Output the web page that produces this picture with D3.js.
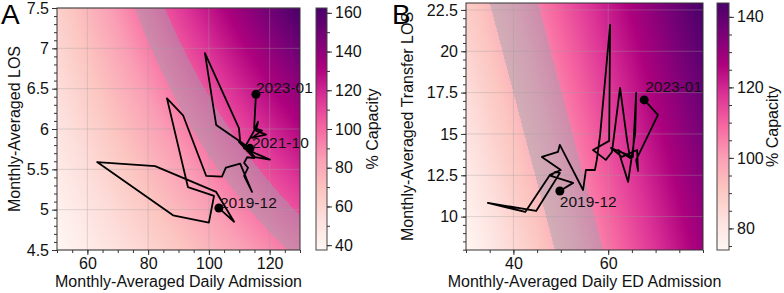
<!DOCTYPE html>
<html><head><meta charset="utf-8">
<script src="https://cdn.jsdelivr.net/npm/d3@7"></script>
<style>html,body{margin:0;padding:0;background:#fff;} svg{display:block;font-family:"Liberation Sans",Arial,sans-serif;}</style>
</head><body><svg id="chart" width="784" height="293"></svg>
<script>
// ---------------- DATA ----------------
// Panel A: monthly-averaged daily admission vs monthly-averaged LOS (2019-12 .. 2023-01)
const aAdmission = [103.3,108.3,102.4,82.3,63.2,88.2,100.0,101.7,93.1,86.2,91.5,99.1,104.3,105.6,110.3,114.2,111.6,112.9,111.6,112.6,114.9,109.9,113.5,102.4,98.7,109.9,110.3,115.2,120.1,111.6,114.5,116.2,115.5,118.8,114.2,117.5,114.9,115.5];
const aLOS       = [5.02,4.85,5.22,5.54,5.59,4.93,4.84,5.17,5.28,6.38,6.17,5.42,5.41,5.52,5.57,5.22,5.42,5.52,5.58,5.65,5.64,5.84,5.76,6.05,6.94,6.01,5.85,5.65,5.62,5.76,5.95,6.09,5.98,5.93,5.89,5.98,6.01,6.43];
// Panel B: monthly-averaged daily ED admission vs monthly-averaged transfer LOS
const bAdmission   = [49.8,52.6,47.9,48.8,49.8,44.8,34.6,42.5,47.7,50.0,46.0,49.4,49.8,54.7,55.3,57.2,57.6,58.3,60.4,60.2,56.8,59.5,60.8,62.5,64.0,64.6,62.1,64.2,65.7,65.9,65.2,60.6,62.9,66.1,66.3,65.9,70.5,67.6];
const bTransferLOS = [11.55,12.04,12.46,12.70,12.64,10.34,10.83,10.28,12.52,12.82,13.61,13.91,14.34,11.61,12.82,12.82,13.43,14.94,21.59,14.58,14.03,13.43,13.91,17.78,14.58,13.55,14.03,12.10,15.06,17.48,13.61,14.15,13.61,14.03,12.76,13.43,16.15,17.06];

const aLabelIdx = [0, 22, 37];
const aLabels   = ["2019-12", "2021-10", "2023-01"];
const bLabelIdx = [0, 37];
const bLabels   = ["2019-12", "2023-01"];

const aXDomain = [50, 130], aYDomain = [4.5, 7.5];
const bXDomain = [30, 80],  bYDomain = [7.98, 22.92];
const aXTicks = [60, 80, 100, 120];
const aYTicks = [4.5, 5, 5.5, 6, 6.5, 7, 7.5];
const aCbTicks = [40, 60, 80, 100, 120, 140, 160];
const bXTicks = [40, 60];
const bYTicks = [10, 12.5, 15, 17.5, 20, 22.5];
const bCbTicks = [80, 100, 120, 140];

// capacity models (% capacity surfaces)
const aBeds = 600;                          // capacity = admission * LOS / beds * 100
const bCoef = [32.84, 1.099, 1.011];        // capacity = c0 + a*admission + b*transferLOS
const aBand = [94.5, 106.8];
const bBand = [94.5, 105.7];

const rdpu = ["#fff7f3","#fde0dd","#fcc5c0","#fa9fb5","#f768a1","#dd3497","#ae017e","#7a0177","#49006a"];

// ---------------- DRAW ----------------
const svg = d3.select("#chart");
const cmap = d3.scaleLinear().domain(d3.range(9).map(i => i / 8)).range(rdpu).interpolate(d3.interpolateRgb).clamp(true);
const fmt = d => String(d);

function rasterURL(w, h, fn) {
  const c = document.createElement("canvas"); c.width = w; c.height = h;
  const ctx = c.getContext("2d"); const img = ctx.createImageData(w, h);
  for (let j = 0; j < h; j++) for (let i = 0; i < w; i++) {
    const col = fn(i + 0.5, j + 0.5); const k = (j * w + i) * 4;
    img.data[k] = col[0]; img.data[k+1] = col[1]; img.data[k+2] = col[2]; img.data[k+3] = 255;
  }
  ctx.putImageData(img, 0, 0); return c.toDataURL();
}

function panel(cfg) {
  const x = d3.scaleLinear().domain(cfg.xDomain).range([cfg.left, cfg.right]);
  const y = d3.scaleLinear().domain(cfg.yDomain).range([cfg.bottom, cfg.top]);
  const corners = [];
  for (const xv of cfg.xDomain) for (const yv of cfg.yDomain) corners.push(cfg.cap(xv, yv));
  const cext = d3.extent(corners);
  const cnorm = d3.scaleLinear().domain(cext).range([0, 1]);
  const w = Math.round(cfg.right - cfg.left), h = Math.round(cfg.bottom - cfg.top);
  const bandCol = [150, 160, 175], ga = cfg.bandAlpha;
  const url = rasterURL(w, h, (px, py) => {
    const xv = x.invert(cfg.left + px), yv = y.invert(cfg.top + py);
    const c = cfg.cap(xv, yv);
    const rgb = d3.rgb(cmap(cnorm(c)));
    let col = [rgb.r, rgb.g, rgb.b];
    if (c >= cfg.band[0] && c <= cfg.band[1]) col = col.map((v, i) => v * (1 - ga) + bandCol[i] * ga);
    return col;
  });
  const g = svg.append("g");
  g.append("image").attr("href", url).attr("x", cfg.left).attr("y", cfg.top)
    .attr("width", w).attr("height", h).attr("preserveAspectRatio", "none");

  // grid
  g.append("g").selectAll("line").data(cfg.xTicks).join("line")
    .attr("x1", d => x(d)).attr("x2", d => x(d)).attr("y1", cfg.top).attr("y2", cfg.bottom)
    .attr("stroke", "#a0a0a0").attr("stroke-opacity", 0.45).attr("stroke-width", 0.8);
  g.append("g").selectAll("line").data(cfg.yTicks).join("line")
    .attr("y1", d => y(d)).attr("y2", d => y(d)).attr("x1", cfg.left).attr("x2", cfg.right)
    .attr("stroke", "#a0a0a0").attr("stroke-opacity", 0.45).attr("stroke-width", 0.8);

  // trajectory
  const pts = cfg.xs.map((v, i) => [v, cfg.ys[i]]);
  g.append("path").datum(pts)
    .attr("d", d3.line().x(d => x(d[0])).y(d => y(d[1])))
    .attr("fill", "none").attr("stroke", "#000").attr("stroke-width", 1.8).attr("stroke-linejoin", "round");
  g.selectAll("circle.m").data(cfg.labelIdx).join("circle")
    .attr("cx", i => x(cfg.xs[i])).attr("cy", i => y(cfg.ys[i])).attr("r", 4.5).attr("fill", "#000");
  g.selectAll("text.lab").data(cfg.labelIdx).join("text")
    .attr("x", (i, k) => x(cfg.xs[i]) + cfg.labOff[k][0]).attr("y", (i, k) => y(cfg.ys[i]) + cfg.labOff[k][1])
    .attr("font-size", 15.5).attr("fill", "#111").text((i, k) => cfg.labels[k]);

  // frame
  g.append("rect").attr("x", cfg.left).attr("y", cfg.top).attr("width", cfg.right - cfg.left).attr("height", cfg.bottom - cfg.top)
    .attr("fill", "none").attr("stroke", "#333").attr("stroke-width", 1);

  // axes
  const styleAxis = sel => { sel.select(".domain").remove(); sel.selectAll("line").attr("stroke", "#333");
    sel.selectAll("text").attr("font-size", 16).attr("fill", "#111").attr("font-family", "Liberation Sans, Arial, sans-serif"); };
  const xMinor = d3.range(Math.ceil(cfg.xDomain[0] / cfg.xMinor) * cfg.xMinor, cfg.xDomain[1] + 1e-9, cfg.xMinor);
  const yMinor = d3.range(Math.ceil(cfg.yDomain[0] / cfg.yMinor - 1e-9) * cfg.yMinor, cfg.yDomain[1] + 1e-9, cfg.yMinor);
  g.append("g").attr("transform", `translate(0,${cfg.bottom})`)
    .call(d3.axisBottom(x).tickValues(xMinor).tickSize(3).tickFormat("")).call(styleAxis);
  g.append("g").attr("transform", `translate(0,${cfg.bottom})`)
    .call(d3.axisBottom(x).tickValues(cfg.xTicks).tickSize(5).tickPadding(3).tickFormat(fmt)).call(styleAxis);
  g.append("g").attr("transform", `translate(${cfg.left},0)`)
    .call(d3.axisLeft(y).tickValues(yMinor).tickSize(3).tickFormat("")).call(styleAxis);
  g.append("g").attr("transform", `translate(${cfg.left},0)`)
    .call(d3.axisLeft(y).tickValues(cfg.yTicks).tickSize(5).tickPadding(3).tickFormat(fmt)).call(styleAxis);

  // labels
  g.append("text").attr("x", (cfg.left + cfg.right) / 2).attr("y", 287).attr("text-anchor", "middle")
    .attr("font-size", 16).attr("fill", "#111").text(cfg.xLabel);
  g.append("text").attr("transform", `translate(${cfg.yLabelX},${(cfg.top + cfg.bottom) / 2}) rotate(-90)`)
    .attr("text-anchor", "middle").attr("font-size", 16).attr("fill", "#111").text(cfg.yLabel);
  g.append("text").attr("x", cfg.letterX).attr("y", 24).attr("font-size", 28).attr("fill", "#000").text(cfg.letter);

  // colorbar
  const cb = d3.scaleLinear().domain(cext).range([cfg.bottom, cfg.top]);
  const cbw = cfg.cbRight - cfg.cbLeft;
  const cbUrl = rasterURL(Math.round(cbw), h, (px, py) => {
    const rgb = d3.rgb(cmap(cnorm(cb.invert(cfg.top + py)))); return [rgb.r, rgb.g, rgb.b]; });
  g.append("image").attr("href", cbUrl).attr("x", cfg.cbLeft).attr("y", cfg.top)
    .attr("width", cbw).attr("height", h).attr("preserveAspectRatio", "none");
  g.append("rect").attr("x", cfg.cbLeft).attr("y", cfg.top).attr("width", cbw).attr("height", h)
    .attr("fill", "none").attr("stroke", "#444").attr("stroke-width", 1);
  const cMinor = d3.range(Math.ceil(cext[0] / cfg.cbMinor) * cfg.cbMinor, cext[1], cfg.cbMinor);
  g.append("g").attr("transform", `translate(${cfg.cbRight},0)`)
    .call(d3.axisRight(cb).tickValues(cMinor).tickSize(3).tickFormat("")).call(styleAxis);
  g.append("g").attr("transform", `translate(${cfg.cbRight},0)`)
    .call(d3.axisRight(cb).tickValues(cfg.cbTicks).tickSize(5).tickPadding(3).tickFormat(fmt)).call(styleAxis);
  g.append("text").attr("transform", `translate(${cfg.cbLabelX},${(cfg.top + cfg.bottom) / 2}) rotate(-90)`)
    .attr("text-anchor", "middle").attr("font-size", 16).attr("fill", "#111").text("% Capacity");
}

panel({
  left: 57, right: 300, top: 8, bottom: 250, cbLeft: 316, cbRight: 327, cbLabelX: 378,
  xDomain: aXDomain, yDomain: aYDomain, xTicks: aXTicks, yTicks: aYTicks, cbTicks: aCbTicks,
  xMinor: 5, yMinor: 0.1, cbMinor: 10,
  cap: (a, l) => a * l / aBeds * 100, band: aBand, bandAlpha: 0.42,
  xs: aAdmission, ys: aLOS, labelIdx: aLabelIdx, labels: aLabels,
  labOff: [[1, 0], [2, 0], [0, -1]],
  xLabel: "Monthly-Averaged Daily Admission", yLabel: "Monthly-Averaged LOS", yLabelX: 20,
  letter: "A", letterX: 1
});
panel({
  left: 466, right: 703, top: 3, bottom: 250, cbLeft: 717, cbRight: 729, cbLabelX: 778,
  xDomain: bXDomain, yDomain: bYDomain, xTicks: bXTicks, yTicks: bYTicks, cbTicks: bCbTicks,
  xMinor: 5, yMinor: 0.5, cbMinor: 5,
  cap: (a, l) => bCoef[0] + bCoef[1] * a + bCoef[2] * l, band: bBand, bandAlpha: 0.42,
  xs: bAdmission, ys: bTransferLOS, labelIdx: bLabelIdx, labels: bLabels,
  labOff: [[0, 16], [1, -8]],
  xLabel: "Monthly-Averaged Daily ED Admission", yLabel: "Monthly-Averaged Transfer LOS", yLabelX: 413,
  letter: "B", letterX: 392
});
</script></body></html>
